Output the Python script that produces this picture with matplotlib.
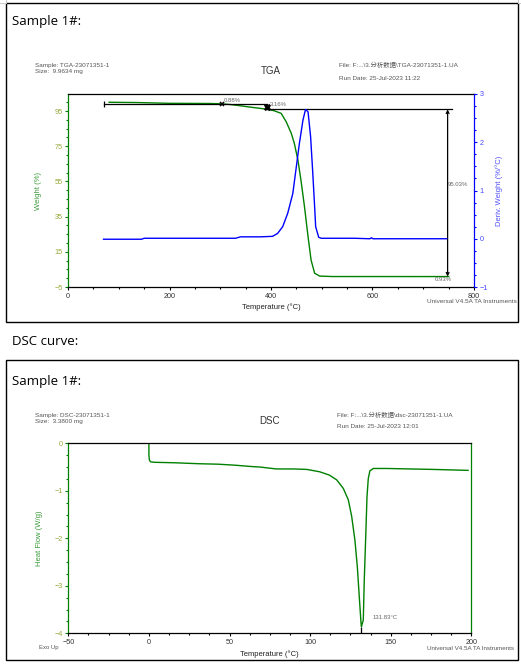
import matplotlib
matplotlib.use('Agg')
import matplotlib.pyplot as plt
from matplotlib.patches import Rectangle
from matplotlib.lines import Line2D
from matplotlib.ticker import MultipleLocator
from matplotlib.transforms import Bbox, TransformedBbox

W, H = 521, 665
SMALL = ['Liberation Sans', 'Noto Sans CJK SC', 'DejaVu Sans']
BIG = ['Open Sans', 'DejaVu Sans']
plt.rcParams['font.family'] = SMALL

GREEN = '#008000'
BLUE = '#0000ff'
OLIVE = '#98a83c'
LBLUE = '#4646ff'
GREY = '#555555'

# TGA weight curve (left axis, %)
tga_temp = [81, 135, 200, 280, 303, 320, 340, 360, 380, 392, 406, 420, 430,
            440, 446, 453, 459, 466, 473, 479, 486, 496, 520, 750]
tga_weight = [100.0, 99.85, 99.4, 99.3, 99.12, 98.7, 98.0, 97.2, 96.5, 95.96,
              95.2, 93.7, 88.9, 82.3, 76.6, 67.2, 55.8, 40.6, 23.6, 10.3,
              2.8, 1.2, 0.95, 0.93]

# derivative weight (right axis, %/C)
dtg_temp = [70, 145, 150, 330, 340, 380, 403, 413, 423, 433, 443, 449, 456,
            463, 468, 473, 478, 482, 486, 488, 494, 499, 564, 595, 598, 601, 746]
dtg_value = [-0.01, -0.01, 0.01, 0.01, 0.04, 0.04, 0.05, 0.11, 0.25, 0.53,
             0.94, 1.42, 1.98, 2.46, 2.68, 2.63, 2.12, 1.42, 0.66, 0.25,
             0.03, 0.01, 0.01, 0.0, 0.02, 0.0, 0.0]

# weight-change steps
step_start = 71
step_temps = [303, 392]
step_levels = [99.12, 95.96]
step_labels = ['0.88%', '3.16%']
resid_temp = 748
resid_level = 0.93
big_loss = '95.03%'
resid_label = '0.93%'

# DSC curve
dsc_temp = [0, 0, 0.3, 1, 3.5, 16, 31, 43, 53, 64, 69, 79, 90, 98, 106, 112,
            116.5, 120.6, 123.7, 125.8, 127.8, 129.3, 130.5, 131.6, 131.83,
            133, 133.6, 134.5, 135.3, 136.1, 137.1, 139.2, 147.5, 162, 176.4, 198]
dsc_hf = [0, -0.25, -0.35, -0.39, -0.40, -0.41, -0.43, -0.44, -0.46, -0.49,
          -0.50, -0.54, -0.54, -0.55, -0.60, -0.67, -0.77, -0.95, -1.19, -1.54,
          -2.04, -2.60, -3.23, -3.79, -3.86, -3.72, -2.88, -1.97, -1.12, -0.74,
          -0.58, -0.53, -0.53, -0.54, -0.55, -0.57]
peak_temp = 131.83
peak_hf = -3.86


def fx(px):
    return px / W


def fy(py):
    return 1 - py / H


fig = plt.figure(figsize=(W / 100, H / 100), dpi=100)

# page frames
for top, bot in [(3, 322), (360, 660)]:
    fig.patches.append(Rectangle((fx(6), fy(bot)), fx(512), (bot - top) / H,
                                 transform=fig.transFigure, fill=False,
                                 ec='black', lw=1.0))
for xs in ([0, 6], [518, 521]):
    fig.lines.append(Line2D([fx(xs[0]), fx(xs[1])], [fy(3), fy(3)],
                            transform=fig.transFigure, color='#c8c8c8', lw=0.7))
fig.lines.append(Line2D([fx(6), fx(6)], [fy(0), fy(3)],
                        transform=fig.transFigure, color='#c8c8c8', lw=0.7))
fig.lines.append(Line2D([fx(518), fx(518)], [fy(0), fy(3)],
                        transform=fig.transFigure, color='#c8c8c8', lw=0.7))

fig.text(fx(12), fy(22), 'Sample 1#:', family=BIG, fontsize=9.5, va='center')
fig.text(fx(12), fy(342), 'DSC curve:', family=BIG, fontsize=9.5, va='center')
fig.text(fx(12), fy(382), 'Sample 1#:', family=BIG, fontsize=9.5, va='center')

# headers
hdr = dict(fontsize=4.6, color=GREY, va='center', ha='left')
fig.text(fx(35), fy(65), 'Sample: TGA-23071351-1', **hdr)
fig.text(fx(35), fy(71), 'Size:  9.9634 mg', **hdr)
fig.text(fx(339), fy(65), 'File: F:...\\3.分析数据\\TGA-23071351-1.UA', **hdr)
fig.text(fx(339), fy(78), 'Run Date: 25-Jul-2023 11:22', **hdr)
fig.text(fx(271), fy(71), 'TGA', fontsize=7, color='#333333', ha='center', va='center')

fig.text(fx(35), fy(415), 'Sample: DSC-23071351-1', **hdr)
fig.text(fx(35), fy(421), 'Size:  3.3800 mg', **hdr)
fig.text(fx(337), fy(415), 'File: F:...\\3.分析数据\\dsc-23071351-1.UA', **hdr)
fig.text(fx(337), fy(427), 'Run Date: 25-Jul-2023 12:01', **hdr)
fig.text(fx(270), fy(421), 'DSC', fontsize=7, color='#333333', ha='center', va='center')


def style_axes(ax, xlabel, ylabel):
    ax.tick_params(axis='y', which='both', direction='out', colors=GREEN,
                   labelcolor=OLIVE, width=0.8, labelsize=5.2, pad=1.5)
    ax.tick_params(axis='x', which='both', direction='out', colors='black',
                   labelcolor='#333333', width=0.8, labelsize=5.2, pad=1.5)
    ax.tick_params(which='major', length=2.5)
    ax.tick_params(which='minor', length=1.6)
    ax.spines['left'].set_color(GREEN)
    for s in ax.spines.values():
        s.set_linewidth(0.9)
    ax.set_xlabel(xlabel, fontsize=5.5, color='#222222')
    ax.set_ylabel(ylabel, fontsize=5.5, color='#3a9a3a', va='center')
    ax.yaxis.set_label_coords(-0.072, 0.5)


# TGA panel
ax1 = fig.add_axes([fx(68), fy(287), (474 - 68) / W, (287 - 94) / H])
ax1.plot(tga_temp, tga_weight, color=GREEN, lw=1.0, zorder=2)
ax1.set_xlim(0, 800)
ax1.set_ylim(-5, 104.7)
ax1.set_xticks([0, 200, 400, 600, 800])
ax1.xaxis.set_minor_locator(MultipleLocator(50))
ax1.set_yticks([-5, 15, 35, 55, 75, 95])
ax1.yaxis.set_minor_locator(MultipleLocator(5))
style_axes(ax1, 'Temperature (°C)', 'Weight (%)')
ax1.xaxis.labelpad = 3
ax1.spines['right'].set_visible(False)

ax2 = ax1.twinx()
ax2.plot(dtg_temp, dtg_value, color=BLUE, lw=1.0)
ax2.set_ylim(-1, 3)
ax2.set_yticks([-1, 0, 1, 2, 3])
ax2.yaxis.set_minor_locator(MultipleLocator(0.25))
for side in ['left', 'top', 'bottom']:
    ax2.spines[side].set_visible(False)
ax2.spines['right'].set_color(BLUE)
ax2.spines['right'].set_linewidth(0.9)
ax2.tick_params(axis='y', which='both', direction='out', colors=BLUE,
                labelcolor=LBLUE, width=0.8, labelsize=5.2, pad=1.5)
ax2.tick_params(which='major', length=2.5)
ax2.tick_params(which='minor', length=1.6)
ax2.set_ylabel('Deriv. Weight (%/°C)', fontsize=5.5, color='#5050ff',
               rotation=90, va='center')
ax2.yaxis.set_label_coords(1.062, 0.5)

# step annotations
ann = dict(fontsize=4.3, color='#666666')
ax1.plot([step_start, step_temps[1]], [step_levels[0]] * 2, color='black', lw=0.9)
ax1.plot([step_temps[1], 756], [step_levels[1]] * 2, color='black', lw=0.9)
ax1.plot([step_start], [step_levels[0]], marker='|', ms=5, mew=0.9, color='black')
ax1.plot([step_temps[0]], [step_levels[0]], marker='x', ms=3.5, mew=1.1, color='black')
ax1.plot([step_temps[1]], [(step_levels[0] + step_levels[1]) / 2], marker='X',
         ms=5, mew=0.5, color='black')
ax1.text(step_temps[0] + 4, step_levels[0] + 0.3, step_labels[0], va='bottom', **ann)
ax1.text(step_temps[1] + 5, step_levels[0] - 0.5, step_labels[1], va='center', **ann)
ax1.annotate('', xy=(resid_temp, resid_level), xytext=(resid_temp, step_levels[1]),
             arrowprops=dict(arrowstyle='<->', color='black', lw=0.9,
                             shrinkA=0, shrinkB=0, mutation_scale=5))
ax1.text(resid_temp + 1, 53.4, big_loss, ha='left', va='center', **ann)
ax1.text(resid_temp - 8, -1.0, resid_label, ha='center', va='center', **ann)

tx = fig.text(fx(427), fy(301), 'Universal V4.5A TA Instruments', fontsize=4.6,
              color=GREY, ha='left', va='center', clip_on=True)
tx.set_clip_box(TransformedBbox(Bbox([[fx(6), fy(322)], [fx(517), fy(3)]]),
                                fig.transFigure))

# DSC panel
ax3 = fig.add_axes([fx(68.3), fy(633.3), 403 / W, 190 / H])
ax3.plot(dsc_temp, dsc_hf, color=GREEN, lw=1.0)
ax3.set_xlim(-50, 200)
ax3.set_ylim(-4, 0)
ax3.set_xticks([-50, 0, 50, 100, 150, 200])
ax3.xaxis.set_minor_locator(MultipleLocator(12.5))
ax3.set_yticks([-4, -3, -2, -1, 0])
ax3.yaxis.set_minor_locator(MultipleLocator(0.25))
style_axes(ax3, 'Temperature (°C)', 'Heat Flow (W/g)')
ax3.xaxis.labelpad = 3
ax3.spines['right'].set_color(GREEN)
ax3.plot([peak_temp], [peak_hf - 0.08], marker='|', ms=4, mew=0.9, color='black')
ax3.text(139, -3.67, f'{peak_temp:.2f}°C', ha='left', va='center', **ann)

fig.text(fx(39), fy(647), 'Exo Up', fontsize=4.3, color=GREY, ha='left', va='center')
fig.text(fx(427), fy(648.5), 'Universal V4.5A TA Instruments', fontsize=4.5,
         color=GREY, ha='left', va='center')

fig.savefig('out.png', dpi=100)
